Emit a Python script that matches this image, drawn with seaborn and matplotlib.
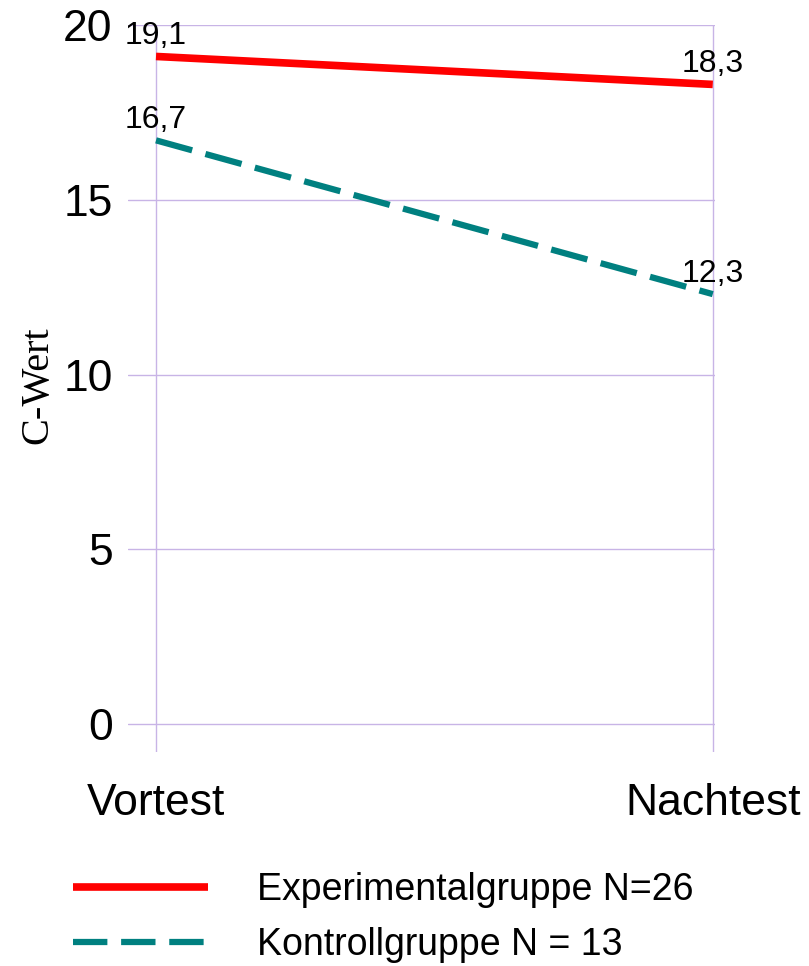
import matplotlib
matplotlib.use("Agg")
import matplotlib.pyplot as plt
import seaborn as sns
import pandas as pd
from matplotlib.lines import Line2D

# ---- data ----
phases = ["Vortest", "Nachtest"]
group_names = ["Experimentalgruppe N=26", "Kontrollgruppe N = 13"]
experimental = [19.1, 18.3]
kontroll = [16.7, 12.3]
yticks = [0, 5, 10, 15, 20]

df = pd.DataFrame({
    "Phase": phases * 2,
    "C-Wert": experimental + kontroll,
    "Gruppe": [group_names[0]] * 2 + [group_names[1]] * 2,
})

sns.set_theme(style="white")
plt.rcParams["font.family"] = ["Liberation Sans", "DejaVu Sans"]
plt.rcParams["text.color"] = "black"

colors = {group_names[0]: "#ff0000", group_names[1]: "#008080"}
dashes = {group_names[0]: "", group_names[1]: (6.0, 2.2)}
widths = {group_names[0]: 5.5, group_names[1]: 4.5}

fig = plt.figure(figsize=(8.09, 9.66), dpi=100)
ax = fig.add_axes([128 / 809, 214 / 966, 587 / 809, 727 / 966])

sns.lineplot(data=df, x="Phase", y="C-Wert", hue="Gruppe", style="Gruppe",
             palette=colors, dashes=dashes, ax=ax, legend=False, sort=False)
for line, g in zip(ax.get_lines(), group_names):
    line.set_linewidth(widths[g])
    line.set_solid_capstyle("butt")
    line.set_dash_capstyle("butt")
    line.set_zorder(3)

ax.set_xlim(-0.0503, 1.004)
ax.set_ylim(-0.8, 20)
ax.set_yticks(yticks)
ax.set_xticks(range(len(phases)))
ax.set_xticklabels(phases)
ax.grid(True, color="#c8b4e6", linewidth=1.0)
for s in ax.spines.values():
    s.set_visible(False)
ax.tick_params(axis="y", length=0, pad=11, labelsize=32, labelcolor="black")
ax.tick_params(axis="x", length=0, pad=22, labelsize=32, labelcolor="black")

ax.set_xlabel("")
ax.set_ylabel("C-Wert", family=["Liberation Serif", "DejaVu Serif"], fontsize=29, color="black")
ax.yaxis.set_label_coords(-0.122, 0.505)

# value labels
for vals in (experimental, kontroll):
    for i, v in enumerate(vals):
        ax.annotate(f"{v:.1f}".replace(".", ","), (i, v), xytext=(0, 4),
                    textcoords="offset points", ha="center", va="bottom",
                    fontsize=23, color="black", zorder=4)

handles = [
    Line2D([], [], color=colors[group_names[0]], lw=5.5, solid_capstyle="butt"),
    Line2D([], [], color=colors[group_names[1]], lw=4.5, dashes=(5.5, 2.2), dash_capstyle="butt"),
]
leg = fig.legend(handles, group_names, loc="upper left", bbox_to_anchor=(73 / 809, 1 - 872 / 966),
                 frameon=False, fontsize=27, handlelength=3.6, handletextpad=1.3,
                 labelspacing=0.5, borderpad=0, borderaxespad=0)
for t in leg.get_texts():
    t.set_color("black")

fig.savefig("out.png", dpi=100)
